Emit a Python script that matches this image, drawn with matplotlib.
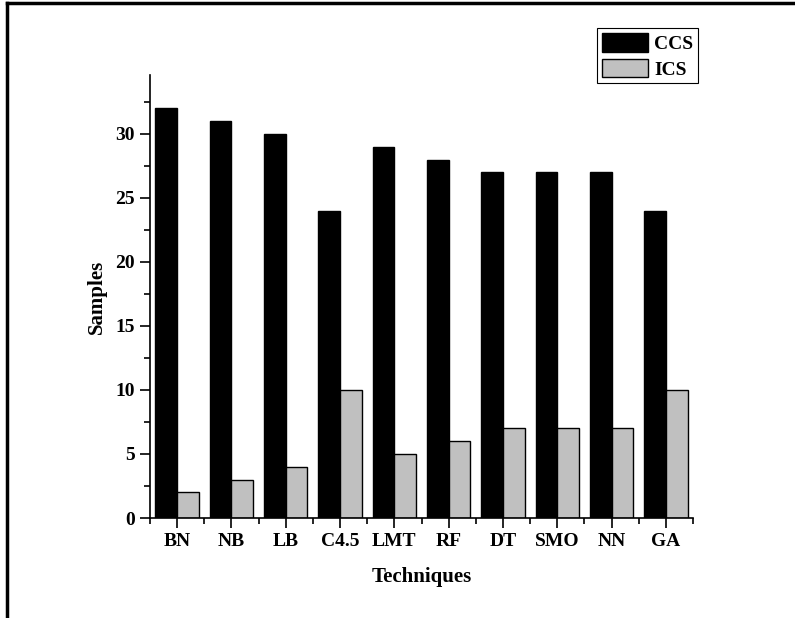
import numpy as np
import matplotlib.pyplot as plt
from matplotlib.lines import Line2D
from matplotlib.ticker import MultipleLocator, FixedLocator

techniques = ['BN', 'NB', 'LB', 'C4.5', 'LMT', 'RF', 'DT', 'SMO', 'NN', 'GA']
ccs = [32, 31, 30, 24, 29, 28, 27, 27, 27, 24]
ics = [2, 3, 4, 10, 5, 6, 7, 7, 7, 10]

plt.rcParams['font.family'] = ['Liberation Serif', 'DejaVu Serif']
plt.rcParams['font.weight'] = 'bold'

fig = plt.figure(figsize=(7.95, 6.18), dpi=100)
ax = fig.add_axes([0.1887, 0.1618, 0.8717 - 0.1887, 0.8786 - 0.1618])

x = np.arange(len(techniques))
w = 0.4
ax.bar(x - w / 2, ccs, w, color='black', edgecolor='black', linewidth=1, label='CCS')
ax.bar(x + w / 2, ics, w, color='#c0c0c0', edgecolor='black', linewidth=1, label='ICS')

ax.set_xlim(-0.5, 9.5)
ax.set_ylim(0, 34.6)

ax.spines['top'].set_visible(False)
ax.spines['right'].set_visible(False)
ax.spines['left'].set_linewidth(1.2)
ax.spines['bottom'].set_linewidth(1.2)

ax.set_xticks(x)
ax.set_xticklabels(techniques)
ax.xaxis.set_minor_locator(FixedLocator(np.arange(-0.5, 10, 1)))
ax.yaxis.set_major_locator(MultipleLocator(5))
ax.yaxis.set_minor_locator(MultipleLocator(2.5))

ax.tick_params(which='major', direction='out', length=7, width=1.2, labelsize=14, pad=4)
ax.tick_params(which='minor', direction='out', length=4, width=1.2)
for lbl in ax.get_xticklabels() + ax.get_yticklabels():
    lbl.set_fontweight('bold')

ax.set_xlabel('Techniques', fontsize=15, fontweight='bold', labelpad=12)
ax.set_ylabel('Samples', fontsize=15, fontweight='bold', labelpad=6)

leg = ax.legend(loc='upper right', bbox_to_anchor=(698 / 795, 1 - 28 / 618),
                bbox_transform=fig.transFigure, fancybox=False, framealpha=1,
                edgecolor='black', prop={'size': 14, 'weight': 'bold'},
                handlelength=2.4, handleheight=1.1, handletextpad=0.3,
                borderpad=0.25, labelspacing=0.3, borderaxespad=0)
leg.get_frame().set_linewidth(0.8)

# frame of the original picture (only left and top edges visible)
fig.add_artist(Line2D([7 / 795, 7 / 795], [0, 1 - 3 / 618], transform=fig.transFigure,
                      color='black', linewidth=2.5))
fig.add_artist(Line2D([7 / 795, 1], [1 - 3 / 618, 1 - 3 / 618], transform=fig.transFigure,
                      color='black', linewidth=2.5))

fig.savefig('out.png', dpi=100)
